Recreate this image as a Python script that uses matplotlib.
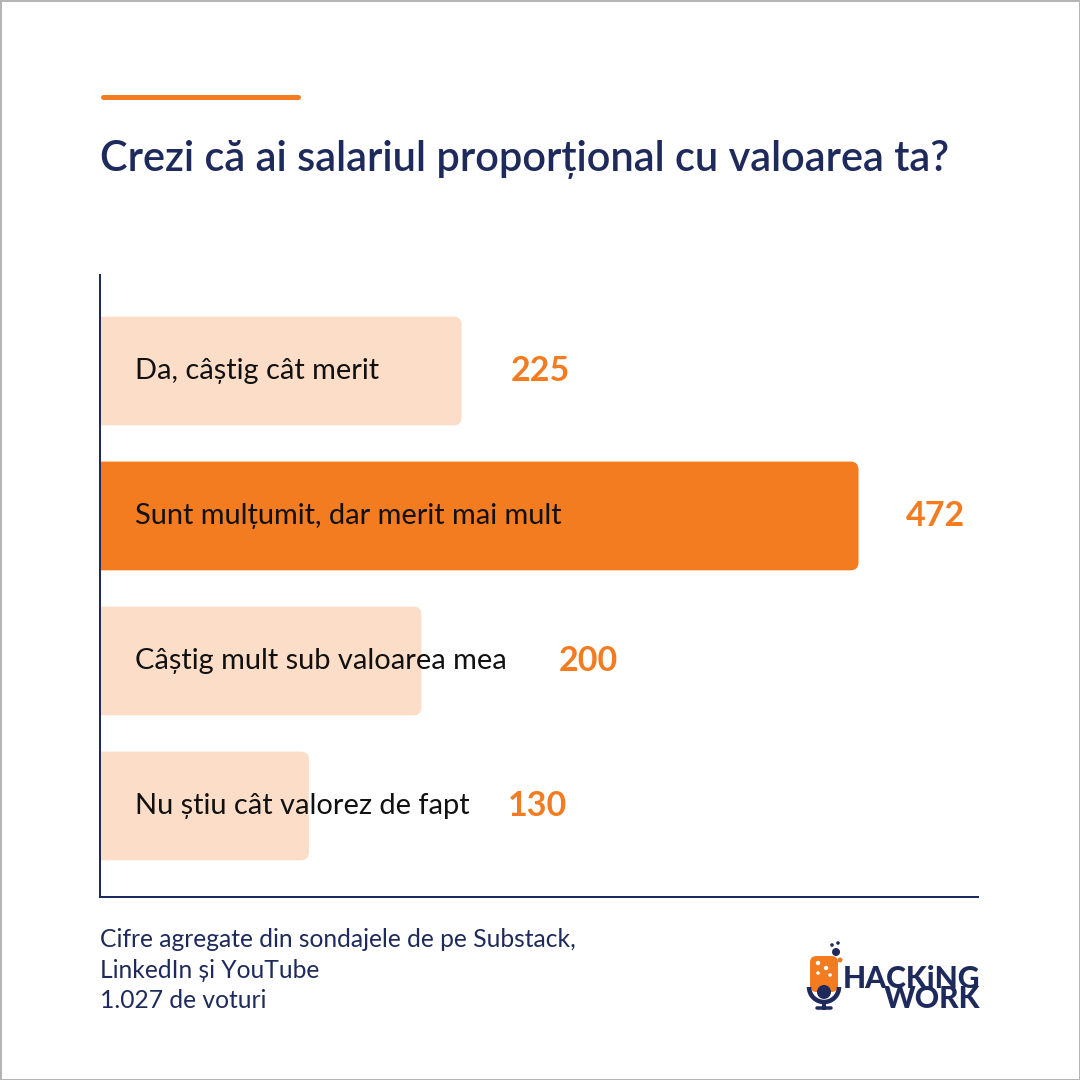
import matplotlib
matplotlib.use("Agg")
import matplotlib.pyplot as plt
from matplotlib.patches import FancyBboxPatch, Rectangle, Circle, Arc
from matplotlib.lines import Line2D

# ---- data ----
categories = [
    "Da, câștig cât merit",
    "Sunt mulțumit, dar merit mai mult",
    "Câștig mult sub valoarea mea",
    "Nu știu cât valorez de fapt",
]
votes = [225, 472, 200, 130]
highlight = [False, True, False, False]
title = "Crezi că ai salariul proporțional cu valoarea ta?"
footer_lines = [
    "Cifre agregate din sondajele de pe Substack,",
    "LinkedIn și YouTube",
    "1.027 de voturi",
]
logo_text = "HACKiNG\nWORK"

ORANGE = "#F37B20"
LIGHT = "#FCDEC8"
NAVY = "#1F2A5C"
FONT = ["Lato", "DejaVu Sans"]

W = H = 1080
fig = plt.figure(figsize=(10.8, 10.8), dpi=100)
fig.patch.set_facecolor("white")

def fx(px):
    return px / W

def fy(py):
    return 1 - py / H

def pt(px):
    return px * 72 / 100

# border
fig.add_artist(Rectangle((0, 0), 1, 1, transform=fig.transFigure, fill=False,
                         edgecolor="#B5B5B5", linewidth=pt(3)))

# top accent line
fig.add_artist(Line2D([fx(102.5), fx(297.5)], [fy(96.5), fy(96.5)], transform=fig.transFigure,
                      color=ORANGE, linewidth=pt(5), solid_capstyle="round"))

# title
fig.text(fx(100), fy(171), title, family=FONT, fontsize=pt(41.5), weight="semibold",
         color=NAVY, ha="left", va="baseline")

# ---- chart axes ----
ax_left, ax_right, ax_top, ax_bottom = 100, 978, 275, 897
ax = fig.add_axes([fx(ax_left), fy(ax_bottom), fx(ax_right - ax_left), (ax_bottom - ax_top) / H])
px_per_unit = 1.607
ax.set_xlim(0, (ax_right - ax_left) / px_per_unit)
ax.set_ylim(3.628, -0.662)
ax.set_facecolor("none")
for s in ["top", "right"]:
    ax.spines[s].set_visible(False)
for s in ["left", "bottom"]:
    ax.spines[s].set_color(NAVY)
    ax.spines[s].set_linewidth(pt(2))
    ax.spines[s].set_zorder(5)
ax.set_xticks([])
ax.set_yticks([])

bar_h = 0.75
y_px_per_unit = (ax_bottom - ax_top) / (3.628 + 0.662)
radius_px = 8
r_x = radius_px / px_per_unit
aspect = (radius_px / y_px_per_unit) / r_x

fig.canvas.draw()
renderer = fig.canvas.get_renderer()
inv = ax.transData.inverted()

gaps_px = [49, 47, 52, 38]
for i, (cat, v, hl) in enumerate(zip(categories, votes, highlight)):
    color = ORANGE if hl else LIGHT
    start = -20
    patch = FancyBboxPatch((start, i - bar_h / 2), v - start, bar_h,
                           boxstyle=f"round,pad=0,rounding_size={r_x}",
                           mutation_aspect=aspect, facecolor=color, edgecolor="none",
                           zorder=2)
    ax.add_patch(patch)
    patch.set_clip_path(ax.patch)
    t = ax.annotate(cat, xy=(0, i), xytext=(35, 0), textcoords="offset pixels",
                    ha="left", va="center", family=FONT, fontsize=pt(29),
                    color="#111111", zorder=3)
    bb = t.get_window_extent(renderer)
    text_end = inv.transform((bb.x1, 0))[0]
    x_lab = max(v, text_end) + gaps_px[i] / px_per_unit
    ax.text(x_lab, i, str(v), ha="left", va="center", family=FONT,
            fontsize=pt(34), weight="bold", color=ORANGE, zorder=3)

# footer
baselines = [947, 978, 1008]
for line, b in zip(footer_lines, baselines):
    fig.text(fx(100), fy(b), line, family=FONT, fontsize=pt(24.6), color=NAVY,
             ha="left", va="baseline")

# logo (approximate)
fig.text(fx(980), fy(1008), logo_text, family=FONT, fontsize=pt(30), weight="black",
         color=NAVY, ha="right", va="baseline", multialignment="right", linespacing=0.66)
fig.add_artist(FancyBboxPatch((fx(810), fy(992)), fx(28), fx(36),
                              boxstyle="round,pad=0,rounding_size=0.006",
                              transform=fig.transFigure, facecolor=ORANGE, edgecolor="none"))
for (cx, cy, r) in [(818, 963, 2.2), (826, 968, 2.2), (830, 975, 1.8), (818, 973, 1.8)]:
    fig.add_artist(Circle((fx(cx), fy(cy)), fx(r), transform=fig.transFigure,
                          facecolor="white", edgecolor="none"))
for (cx, cy, r) in [(836, 952, 4), (830, 960, 2.5), (840, 960, 2.5), (832, 945, 1.8), (838, 943, 1.8)]:
    fig.add_artist(Circle((fx(cx), fy(cy)), fx(r), transform=fig.transFigure,
                          facecolor=ORANGE if cy > 955 else NAVY, edgecolor="none"))
fig.add_artist(Arc((fx(824), fy(987)), fx(30), fx(30), theta1=180, theta2=360,
                   transform=fig.transFigure, color=NAVY, linewidth=pt(4.5)))
fig.add_artist(Circle((fx(824), fy(992)), fx(7), transform=fig.transFigure,
                      facecolor=NAVY, edgecolor="none"))
fig.add_artist(Line2D([fx(824), fx(824)], [fy(1002), fy(1008)], transform=fig.transFigure,
                      color=NAVY, linewidth=pt(4)))
fig.add_artist(Line2D([fx(817), fx(831)], [fy(1008), fy(1008)], transform=fig.transFigure,
                      color=NAVY, linewidth=pt(3.5), solid_capstyle="round"))

fig.savefig("out.png", dpi=100, facecolor="white")
